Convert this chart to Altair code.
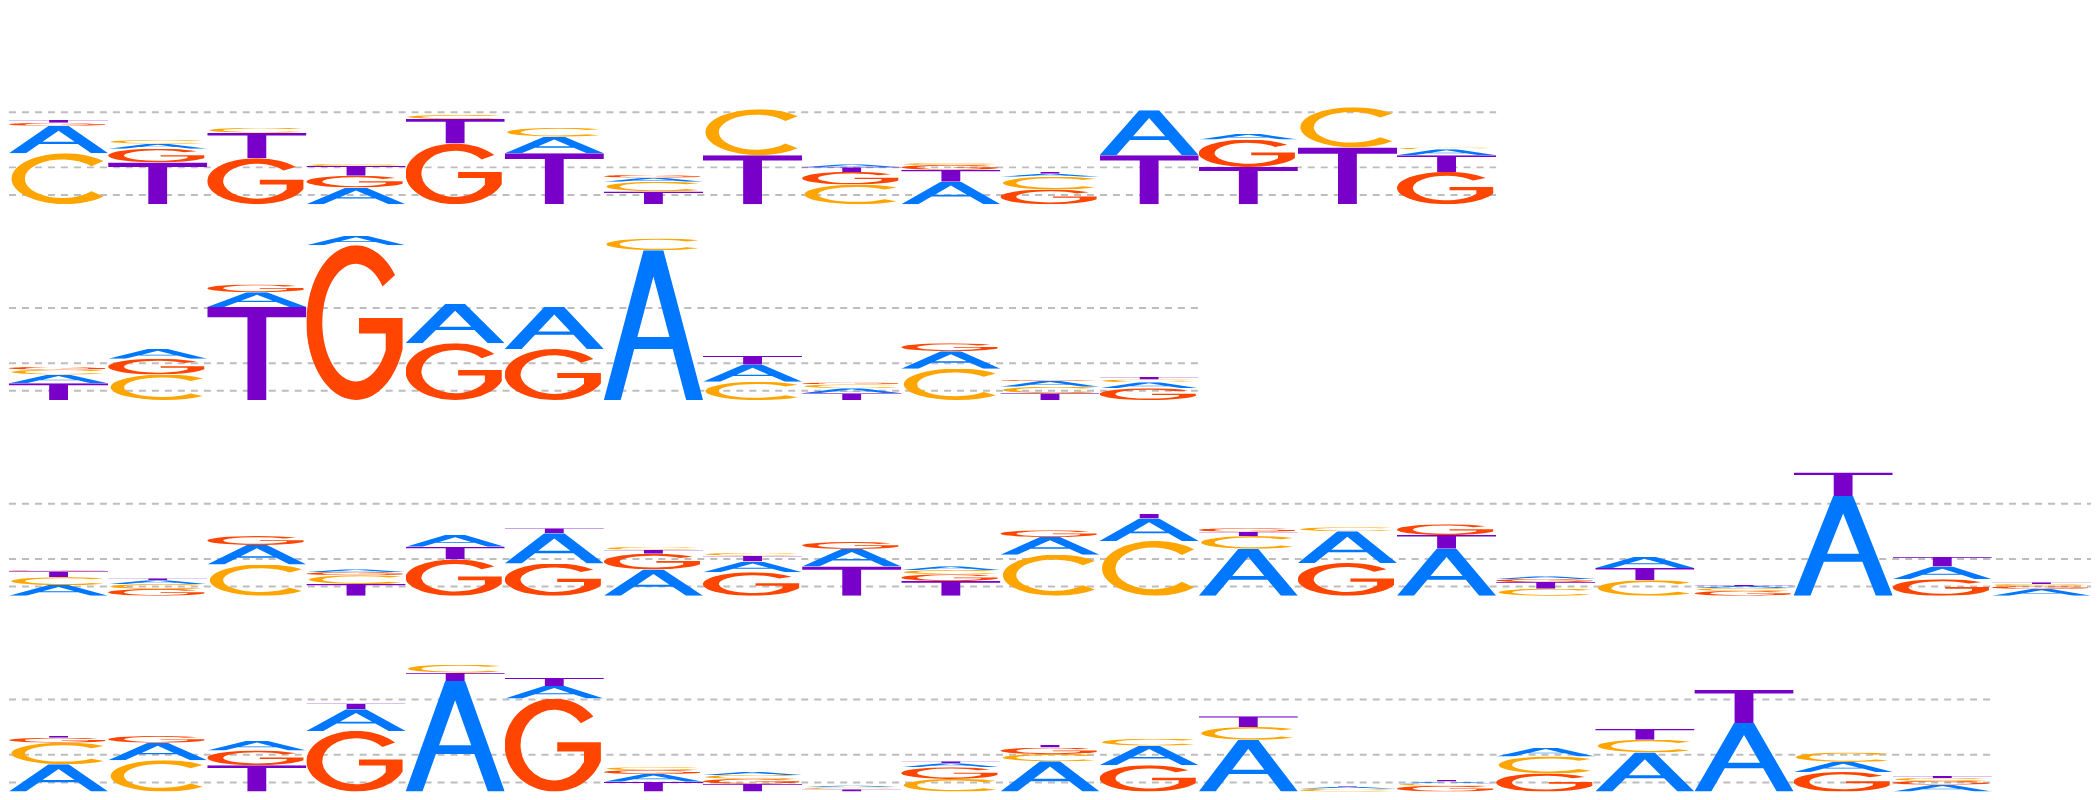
import base64
import altair as alt
import pandas as pd

# ---------------- data: letter heights (bits) per position, four motifs ----------------
LETTERS = ["A", "C", "G", "T"]

row1_A = [0.298, 0.053, 0, 0.181, 0, 0.181, 0.043, 0, 0.032, 0.245, 0.032, 0.489, 0.064, 0, 0.064]
row1_C = [0.553, 0.043, 0.053, 0.021, 0.043, 0.096, 0.106, 0.500, 0.213, 0.021, 0.138, 0, 0, 0.436, 0.021]
row1_G = [0.034, 0.149, 0.500, 0.128, 0.660, 0, 0.032, 0, 0.138, 0.053, 0.160, 0, 0.298, 0, 0.351]
row1_T = [0.030, 0.454, 0.277, 0.106, 0.266, 0.553, 0.138, 0.532, 0.050, 0.128, 0.021, 0.532, 0.404, 0.617, 0.181]

row2_A = [0.096, 0.106, 0.160, 0.106, 0.426, 0.457, 1.628, 0.186, 0.053, 0.191, 0.064, 0.064]
row2_C = [0.053, 0.277, 0, 0, 0, 0, 0.128, 0.197, 0.043, 0.340, 0.069, 0.032]
row2_G = [0.032, 0.170, 0.085, 1.681, 0.617, 0.553, 0, 0, 0.021, 0.085, 0.011, 0.128]
row2_T = [0.181, 0, 1.011, 0, 0, 0, 0, 0.096, 0.074, 0, 0.074, 0.027]

row3_A = [0.117, 0.043, 0.213, 0.030, 0.128, 0.330, 0.287, 0.117, 0.191, 0.040, 0.191, 0.245,
          0.511, 0.346, 0.511, 0.030, 0.124, 0.021, 1.085, 0.138, 0.074]
row3_C = [0.085, 0.053, 0.340, 0.096, 0, 0, 0.032, 0.032, 0, 0.046, 0.447, 0.596,
          0.138, 0.043, 0, 0.077, 0.170, 0.032, 0, 0, 0.023]
row3_G = [0.011, 0.074, 0.096, 0.034, 0.394, 0.351, 0.170, 0.255, 0.074, 0.074, 0.074, 0,
          0.040, 0.356, 0.117, 0.034, 0, 0.053, 0, 0.181, 0.032]
row3_T = [0.064, 0.021, 0, 0.128, 0.138, 0.053, 0.043, 0.064, 0.319, 0.160, 0, 0.053,
          0.046, 0, 0.149, 0.072, 0.131, 0.011, 0.255, 0.106, 0.019]

row4_A = [0.298, 0.191, 0.106, 0.234, 1.202, 0.138, 0.085, 0.032, 0.019, 0.043, 0.330, 0.213,
          0.564, 0.021, 0.021, 0.096, 0.426, 0.745, 0.110, 0.074]
row4_C = [0.234, 0.340, 0, 0, 0.087, 0, 0.032, 0.043, 0.022, 0.138, 0.078, 0.074,
          0.138, 0.032, 0.024, 0.186, 0.138, 0, 0.103, 0.032]
row4_G = [0.053, 0.074, 0.160, 0.660, 0, 1.011, 0.043, 0.053, 0, 0.128, 0.071, 0.287,
          0, 0, 0.064, 0.197, 0, 0, 0.213, 0.043]
row4_T = [0.021, 0, 0.287, 0.064, 0.090, 0.085, 0.106, 0.085, 0.026, 0.021, 0.032, 0,
          0.117, 0.011, 0.018, 0, 0.117, 0.362, 0, 0.021]

GRID_BITS = [0.1, 0.4, 1.0]

ROWS = [
    {"A": row1_A, "C": row1_C, "G": row1_G, "T": row1_T},
    {"A": row2_A, "C": row2_C, "G": row2_G, "T": row2_T},
    {"A": row3_A, "C": row3_C, "G": row3_G, "T": row3_T},
    {"A": row4_A, "C": row4_C, "G": row4_G, "T": row4_T},
]

# ---------------- styling ----------------
COLORS = {"A": "#0077FF", "C": "#FFA500", "G": "#FF4500", "T": "#7800C8"}

# glyph outlines in a 100x100 box (stretched to fill each letter cell)
GLYPHS = {
    "A": "M0,100 L40,0 L60,0 L100,100 L83,100 L69.4,66 L30.6,66 L17,100 Z "
         "M50,17.5 L66.2,58 L33.8,58 Z",
    "C": "M95.4,15.3 A54,50 0 1 0 95.4,84.7 L83.1,74.4 A38,38 0 1 1 83.1,25.6 Z",
    "G": "M89.4,19.2 A50,50 0 1 0 97,67 L97,47 L53,47 L53,57 L80,57 L80,67.9 "
         "A34,38 0 1 1 76.8,26.6 Z",
    "T": "M0,0 H100 V11 H59.5 V100 H40.5 V11 H0 Z",
}


def glyph_url(letter):
    svg = (
        '<svg xmlns="http://www.w3.org/2000/svg" width="100" height="100" '
        'viewBox="0 0 100 100" preserveAspectRatio="none">'
        f'<path fill="{COLORS[letter]}" fill-rule="evenodd" d="{GLYPHS[letter]}"/></svg>'
    )
    return "data:image/svg+xml;base64," + base64.b64encode(svg.encode()).decode()


URLS = {L: glyph_url(L) for L in LETTERS}

N_MAX = 21
PANEL_W = 2084
PANEL_H = 196
Y_MAX = 200 / 94

panels = []
for r in ROWS:
    n = len(r["A"])
    recs = []
    for i in range(n):
        stack = sorted(((r[L][i], L) for L in LETTERS), key=lambda t: -t[0])
        base = 0.0
        for h, L in stack:
            if h <= 0:
                continue
            recs.append(dict(pos=i, pos2=i + 1, y0=base, y1=base + h, letter=L, url=URLS[L]))
            base += h
    df = pd.DataFrame(recs)
    grid_df = pd.DataFrame({"v": GRID_BITS, "x0": [0] * len(GRID_BITS), "x1": [n] * len(GRID_BITS)})

    xs = alt.Scale(domain=[0, N_MAX], nice=False, zero=False)
    ys = alt.Scale(domain=[0, Y_MAX], nice=False, zero=True)

    grid = alt.Chart(grid_df).mark_rule(
        color="#bdbdbd", strokeDash=[7, 6], strokeWidth=2
    ).encode(
        x=alt.X("x0:Q", scale=xs, axis=None),
        x2=alt.X2("x1"),
        y=alt.Y("v:Q", scale=ys, axis=None),
    )

    letters = alt.Chart(df).mark_image(aspect=False).encode(
        x=alt.X("pos:Q", scale=xs, axis=None),
        x2=alt.X2("pos2"),
        y=alt.Y("y0:Q", scale=ys, axis=None),
        y2=alt.Y2("y1"),
        url=alt.Url("url:N"),
    )

    panels.append(alt.layer(grid, letters).properties(width=PANEL_W, height=PANEL_H))

chart = (
    alt.vconcat(*panels, spacing=0)
    .properties(padding=0, background="white")
    .configure_view(stroke=None)
    .configure_concat(spacing=0)
)

chart.save("out.html", embed_options={"renderer": "svg", "actions": False})
